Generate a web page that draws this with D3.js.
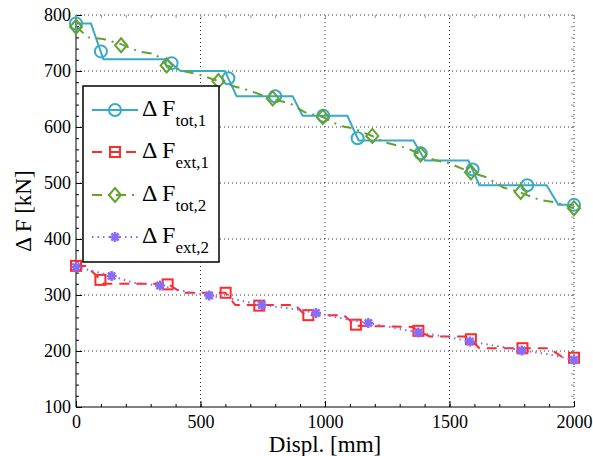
<!DOCTYPE html>
<html><head><meta charset="utf-8">
<script src="https://cdn.jsdelivr.net/npm/d3@7"></script>
<style>body{margin:0;background:#fff}svg{display:block}svg text{font-family:'Liberation Serif','DejaVu Serif',serif !important;fill:#000}</style>
</head><body><svg id="c" width="593" height="456"></svg>
<script>
// ---- data ----
const xTicks = [0, 500, 1000, 1500, 2000];
const yTicks = [100, 200, 300, 400, 500, 600, 700, 800];

// ΔF_tot,1 (solid, circles)
const tot1Line = [[0,785],[60,785],[110,721],[362,721],[420,700],[598,700],[645,655],[870,655],[910,620],[1090,620],[1135,576],[1355,576],[1402,540],[1576,540],[1620,496],[1890,496],[1937,461],[2000,461]];
const tot1Marks = [[0,785],[100,735],[384,714],[612,687],[800,655],[993,620],[1131,580],[1384,553],[1593,524],[1812,496],[2000,461]];

// ΔF_ext,1 (dashed, squares)
const ext1Line = [[0,352],[40,352],[100,327],[110,320],[368,320],[425,304],[600,304],[640,282],[880,282],[920,264],[1075,264],[1124,245],[1350,243],[1375,236],[1420,226],[1560,226],[1586,221],[1620,205],[1900,205],[1950,190],[2000,188]];
const ext1Marks = [[0,352],[98,327],[368,319],[601,304],[736,281],[933,264],[1124,247],[1375,236],[1586,221],[1793,205],[2000,188]];

// ΔF_tot,2 (dash-dot, diamonds)
const tot2Line = [[0,779],[50,760],[110,757],[181,748],[250,735],[320,730],[364,710],[430,700],[500,693],[572,682],[640,672],[690,666],[790,650],[860,642],[920,626],[991,618],[1060,602],[1110,598],[1161,589],[1190,584],[1238,573],[1330,562],[1384,551],[1440,541],[1500,535],[1586,519],[1650,510],[1716,492],[1786,483],[1860,470],[1920,466],[2000,455]];
const tot2Marks = [[0,779],[181,746],[364,710],[572,682],[790,651],[991,618],[1190,584],[1384,551],[1586,519],[1786,484],[2000,455]];

// ΔF_ext,2 (dotted, asterisks)
const ext2Line = [[0,350],[60,344],[143,334],[230,322],[337,317],[430,307],[535,299],[640,292],[746,282],[860,276],[964,268],[1070,258],[1174,250],[1270,242],[1375,233],[1480,226],[1582,217],[1690,209],[1790,201],[1900,194],[2000,184]];
const ext2Marks = [[0,350],[143,334],[337,317],[535,299],[746,282],[964,268],[1174,250],[1375,233],[1582,217],[1790,201],[2000,184]];

const legendSubs = ["tot,1", "ext,1", "tot,2", "ext,2"];

// ---- chart ----
const svg = d3.select("#c");
const x = d3.scaleLinear().domain([0, 2000]).range([76, 574]);
const y = d3.scaleLinear().domain([100, 800]).range([407, 15]);

const colBlue = "#39a9c9", colRed = "#ff2a2a", colGreen = "#62a32e", colPurple = "#8a6cf7";
const SERIF = "'Liberation Serif','DejaVu Serif',serif";

// grid
const g = svg.append("g");
g.selectAll(".gx").data(xTicks.filter(d => d > 0)).join("line")
  .attr("x1", d => x(d)).attr("x2", d => x(d)).attr("y1", y(100)).attr("y2", y(800))
  .attr("stroke", "#333").attr("stroke-width", 1).attr("stroke-dasharray", "1,3");
g.selectAll(".gy").data(yTicks.filter(d => d > 100)).join("line")
  .attr("x1", x(0)).attr("x2", x(2000)).attr("y1", d => y(d)).attr("y2", d => y(d))
  .attr("stroke", "#333").attr("stroke-width", 1).attr("stroke-dasharray", "1,3");

// axes
const xMinor = d3.range(0, 2001, 100);
const yMinor = d3.range(100, 801, 20);
svg.append("g").attr("transform", `translate(0,${y(100)})`)
  .call(d3.axisBottom(x).tickValues(xMinor).tickSize(-3).tickFormat(""))
  .call(a => a.select(".domain").remove());
svg.append("g").attr("transform", `translate(0,${y(100)})`)
  .call(d3.axisBottom(x).tickValues(xTicks).tickSize(-6).tickPadding(8).tickFormat(d3.format("d")))
  .attr("font-family", SERIF)
  .call(a => a.selectAll("text").attr("font-size", 18).style("font-family", SERIF))
  .call(a => a.select(".domain").attr("d", `M${x(0)},0H${x(2000)}`));
svg.append("g").attr("transform", `translate(${x(0)},0)`)
  .call(d3.axisLeft(y).tickValues(yMinor).tickSize(-3).tickFormat(""))
  .call(a => a.select(".domain").remove());
svg.append("g").attr("transform", `translate(${x(0)},0)`)
  .call(d3.axisLeft(y).tickValues(yTicks).tickSize(-6).tickPadding(5).tickFormat(d3.format("d")))
  .attr("font-family", SERIF)
  .call(a => a.selectAll("text").attr("font-size", 18).style("font-family", SERIF))
  .call(a => a.select(".domain").attr("d", `M0,${y(100)}V${y(800)}`));
// right and top minor ticks (light)
svg.append("g").attr("transform", `translate(${x(2000)},0)`)
  .call(d3.axisRight(y).tickValues(yMinor).tickSize(-3).tickFormat(""))
  .call(a => a.selectAll("line").attr("stroke", "#999"))
  .call(a => a.select(".domain").remove());
svg.append("g").attr("transform", `translate(0,${y(800)})`)
  .call(d3.axisTop(x).tickValues(xMinor).tickSize(-3).tickFormat(""))
  .call(a => a.selectAll("line").attr("stroke", "#999"))
  .call(a => a.select(".domain").remove());

// lines
const line = d3.line().x(d => x(d[0])).y(d => y(d[1]));
const series = [
  {line: tot1Line, marks: tot1Marks, color: colBlue, dash: null, mark: "circle"},
  {line: ext1Line, marks: ext1Marks, color: colRed, dash: "10,7", mark: "square"},
  {line: tot2Line, marks: tot2Marks, color: colGreen, dash: "10,6,2,6", mark: "diamond"},
  {line: ext2Line, marks: ext2Marks, color: colPurple, dash: "1.5,4", mark: "star"}
];
const plot = svg.append("g");
function drawMark(sel, type, color) {
  sel.each(function() {
    const s = d3.select(this);
    if (type === "circle") s.append("circle").attr("r", 6).attr("fill", "none").attr("stroke", color).attr("stroke-width", 2);
    else if (type === "square") s.append("rect").attr("x", -5).attr("y", -5).attr("width", 10).attr("height", 10).attr("fill", "none").attr("stroke", color).attr("stroke-width", 2);
    else if (type === "diamond") s.append("path").attr("d", "M0,-7L6,0L0,7L-6,0Z").attr("fill", "none").attr("stroke", color).attr("stroke-width", 2);
    else {
      s.append("path").attr("d", "M-5,0H5M0,-5V5M-3.6,-3.6L3.6,3.6M-3.6,3.6L3.6,-3.6").attr("stroke", color).attr("stroke-width", 2.5);
      s.append("circle").attr("r", 3).attr("fill", color);
    }
  });
}
series.forEach(s => {
  plot.append("path").datum(s.line).attr("d", line).attr("fill", "none")
    .attr("stroke", s.color).attr("stroke-width", 2).attr("stroke-dasharray", s.dash);
  const m = plot.append("g").selectAll("g").data(s.marks).join("g")
    .attr("transform", d => `translate(${x(d[0])},${y(d[1])})`);
  drawMark(m, s.mark, s.color);
});

// axis labels
svg.append("text").attr("x", 325).attr("y", 452).attr("text-anchor", "middle").attr("font-size", 23).style("font-family", SERIF).text("Displ. [mm]");
svg.append("text").attr("transform", "translate(31,211) rotate(-90)").attr("text-anchor", "middle").attr("font-size", 23).style("font-family", SERIF).text("Δ F [kN]");

// legend
const lg = svg.append("g");
lg.append("rect").attr("x", 83).attr("y", 86).attr("width", 136).attr("height", 176).attr("fill", "#fff").attr("stroke", "#000").attr("stroke-width", 1.5);
const rowsY = [110, 152, 195, 237];
series.forEach((s, i) => {
  const ry = rowsY[i];
  lg.append("line").attr("x1", 92).attr("x2", 138).attr("y1", ry).attr("y2", ry)
    .attr("stroke", s.color).attr("stroke-width", 2).attr("stroke-dasharray", s.dash);
  const m = lg.append("g").attr("transform", `translate(115,${ry})`);
  drawMark(m, s.mark, s.color);
  const t = lg.append("text").attr("x", 142).attr("y", ry + 6).attr("font-size", 24).style("font-family", SERIF);
  t.append("tspan").text("Δ F");
  t.append("tspan").attr("dy", 10).attr("font-size", 17).text(legendSubs[i]);
});
</script></body></html>
